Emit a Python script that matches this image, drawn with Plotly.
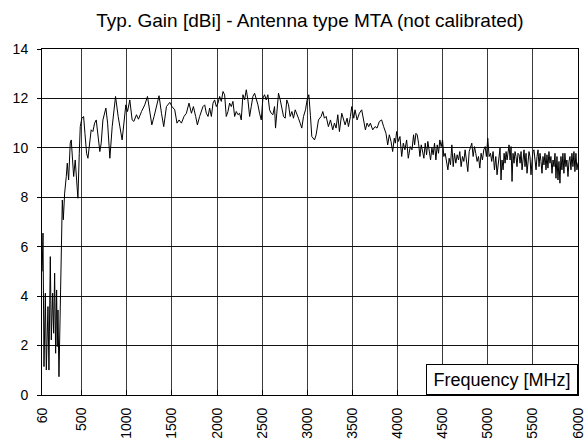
import plotly.graph_objects as go

# Frequency [MHz] sample positions
freq = [
    62, 71, 82, 97, 108, 126, 137, 152, 163, 178, 189, 200, 211, 222, 229, 237, 248, 259, 274, 285,
    296, 311, 329, 340, 355, 373, 384, 395, 411, 428, 444, 458, 473, 484, 502, 521, 536, 554, 569, 587,
    605, 624, 643, 661,
    683, 701, 716, 735, 768, 787, 812, 838, 875, 904, 948, 970, 989, 1008, 1033, 1059, 1078, 1107, 1129, 1163,
    1199, 1229, 1254, 1277, 1302, 1332, 1357, 1384, 1409, 1439, 1476, 1501, 1531, 1556, 1579, 1605, 1634, 1660, 1689, 1716,
    1738, 1763, 1782, 1807,
    1826, 1844, 1863, 1881, 1900, 1918, 1937, 1955, 1973, 1992, 2010, 2029, 2047, 2066, 2084, 2102, 2121, 2139, 2158, 2176,
    2195, 2213, 2232, 2250, 2268, 2287, 2305, 2324, 2342, 2361, 2379, 2397, 2416, 2434, 2453, 2471, 2490, 2508, 2526, 2545,
    2563, 2582, 2600, 2619, 2637, 2648, 2663, 2681, 2700, 2718, 2737, 2755, 2773, 2792, 2810, 2829, 2847, 2866, 2884, 2902,
    2921, 2939, 2958, 2980, 2998, 3017,
    3035, 3050, 3080, 3098, 3124, 3153, 3172, 3190, 3209, 3234, 3257, 3282, 3301, 3319, 3338, 3356, 3382, 3404, 3419, 3441,
    3456, 3478, 3493, 3515, 3529, 3552, 3577, 3603, 3622, 3644, 3662, 3681, 3699, 3725, 3751, 3773, 3799, 3824, 3846, 3872,
    3891, 3909, 3928, 3946, 3964, 3976, 3990, 4009, 4027, 4046, 4064, 4082, 4101, 4119, 4141, 4160, 4178,
    4189, 4204, 4218, 4233, 4248, 4263, 4277, 4292, 4307, 4322, 4336, 4351, 4366, 4381, 4395, 4410, 4425, 4440, 4454, 4469,
    4484, 4499, 4513, 4528, 4543, 4558, 4572, 4587, 4602, 4617, 4631, 4646, 4661, 4676, 4690, 4705, 4720, 4735, 4749, 4764,
    4779, 4794, 4808, 4823, 4838, 4853, 4867, 4882, 4897, 4912, 4926, 4941, 4956, 4971, 4985, 5000, 5015, 5030, 5044, 5059,
    5074, 5089, 5103, 5118,
    5136, 5147, 5158, 5170, 5181, 5192, 5203, 5214, 5225, 5236, 5247, 5258, 5269, 5280, 5291, 5302, 5313, 5324, 5335, 5347,
    5358, 5369, 5380, 5391, 5402, 5413, 5424, 5435, 5446, 5457, 5468, 5479, 5490, 5501, 5512, 5523, 5535, 5546, 5557, 5568,
    5579, 5590, 5601, 5612, 5623, 5634, 5645, 5656, 5667, 5678, 5689, 5700, 5712, 5723, 5734, 5745, 5756, 5767, 5778, 5789,
    5800, 5811, 5822, 5833, 5844, 5855, 5866, 5877, 5889, 5900, 5911, 5922, 5933, 5944, 5955, 5966, 5977, 5988, 6000,
]

# Typical gain [dBi]
gain = [
    5.0, 6.55, 1.15, 4.12, 1.01, 3.58, 1.01, 5.6, 2.23, 4.12, 2.5, 4.93, 1.69, 4.25, 1.96, 3.44, 0.74, 3.31, 6.81, 7.89,
    7.09, 8.17, 8.84, 9.38, 8.7, 10.19, 10.32, 9.65, 8.84, 9.51, 8.7, 7.96, 9.78, 10.86, 11.2, 11.27, 10.59, 9.78, 9.58, 10.05,
    10.73, 10.66, 11.0, 11.13,
    10.53, 9.85, 10.19, 11.13, 11.61, 11.0, 9.58, 10.86, 12.08, 11.27, 10.32, 11.13, 11.74, 11.47, 11.94, 11.13, 11.07, 11.34, 11.16, 11.47,
    11.74, 12.08, 11.4, 10.93, 11.27, 11.74, 12.11, 11.4, 10.86, 11.67, 11.84, 11.67, 11.54, 11.0, 11.13, 11.0, 11.27, 11.4, 11.81, 11.4,
    11.67, 11.27, 10.93, 11.27,
    11.47, 11.67, 11.74, 11.40, 11.27, 11.61, 11.27, 11.81, 11.94, 11.67, 11.81, 12.08, 11.88, 12.28, 12.15, 11.27, 11.47, 11.81, 11.67, 11.88,
    11.27, 11.47, 11.34, 11.40, 11.13, 12.15, 11.94, 12.35, 11.94, 11.27, 11.67, 12.08, 12.21, 12.01, 11.74, 11.40, 11.13, 12.01, 12.15, 11.94,
    12.15, 11.54, 11.40, 11.34, 11.67, 10.80, 11.47, 12.21, 11.94, 11.67, 11.27, 11.20, 11.94, 11.74, 11.27, 11.47, 11.20, 11.54, 11.40, 11.20,
    11.00, 10.80, 11.27, 11.54, 11.94, 12.15,
    11.30, 10.46, 10.32, 10.53, 11.13, 11.27, 11.47, 11.20, 11.27, 10.86, 11.13, 10.73, 11.00, 10.80, 11.34, 10.66, 11.40, 11.07, 10.93, 11.20,
    10.86, 11.27, 11.67, 11.20, 11.54, 11.13, 11.40, 11.54, 11.20, 10.73, 11.00, 10.86, 11.00, 10.73, 10.86, 10.80, 11.07, 11.13, 10.86, 10.59,
    10.12, 10.53, 10.26, 9.85, 10.39, 10.19, 10.66, 10.26, 10.46, 9.65, 10.19, 9.92, 10.32, 9.58, 10.05, 9.92, 10.53,
    10.12, 10.59, 10.53, 10.19, 9.65, 10.12, 9.85, 9.58, 10.19, 9.72, 10.26, 9.92, 9.51, 9.99, 9.72, 10.19, 9.51, 10.12, 9.78, 10.32,
    10.05, 10.32, 9.65, 9.78, 9.45, 9.11, 9.58, 9.31, 10.12, 9.24, 9.78, 9.38, 9.72, 9.51, 9.85, 9.24, 9.65, 9.45, 9.92, 9.51,
    9.04, 9.85, 10.05, 10.19, 9.65, 10.05, 9.78, 9.45, 9.65, 9.18, 9.78, 9.51, 9.92, 10.05, 9.65, 10.39, 9.65, 9.78, 9.45, 9.85,
    9.11, 9.65, 8.91, 9.51,
    9.99, 8.70, 9.51, 9.11, 9.78, 9.38, 9.85, 9.51, 9.78, 10.12, 9.51, 10.05, 8.64, 9.78, 9.38, 9.85, 9.65, 9.24, 9.78, 9.72,
    9.38, 9.85, 9.11, 9.65, 9.92, 9.24, 9.78, 8.97, 9.51, 9.85, 9.65, 8.91, 9.45, 9.85, 9.92, 9.38, 9.11, 9.65, 9.92, 9.24,
    9.78, 9.45, 8.97, 9.65, 9.31, 9.78, 9.11, 9.72, 9.18, 9.85, 9.38, 9.65, 8.97, 9.51, 9.24, 9.78, 8.77, 9.65, 8.70, 9.45,
    8.57, 9.65, 9.11, 9.78, 8.97, 9.78, 9.24, 9.51, 8.84, 9.45, 9.65, 9.11, 9.78, 9.24, 9.85, 9.04, 9.78, 9.11, 9.40,
]

assert len(freq) == len(gain), (len(freq), len(gain))

x_ticks = [60, 500, 1000, 1500, 2000, 2500, 3000, 3500, 4000, 4500, 5000, 5500, 6000]
y_ticks = [0, 2, 4, 6, 8, 10, 12, 14]

title_text = "Typ. Gain [dBi] - Antenna type MTA (not calibrated)"
x_label = "Frequency [MHz]"

FONT = "Liberation Sans, Arial, sans-serif"

fig = go.Figure(
    go.Scatter(x=freq, y=gain, mode="lines", line=dict(color="black", width=1), showlegend=False,
               hoverinfo="skip")
)

fig.update_layout(
    width=585, height=441,
    margin=dict(l=42, r=7, t=49, b=46, autoexpand=False),
    paper_bgcolor="white", plot_bgcolor="white",
    font=dict(family=FONT, color="black", size=14),
    title=dict(text=title_text, x=0.5, xref="paper", xanchor="center",
               y=1 - 20 / 441, yref="container", yanchor="middle",
               font=dict(family=FONT, size=19, color="black")),
    xaxis=dict(range=[60, 6000], tickmode="array", tickvals=x_ticks,
               ticktext=[str(v) for v in x_ticks], tickangle=-90,
               ticks="inside", ticklen=5, tickcolor="black", tickwidth=1,
               showgrid=True, gridcolor="#3a3a3a", gridwidth=1,
               showline=True, mirror=True, linecolor="black", linewidth=1,
               zeroline=False, tickfont=dict(size=14), automargin=False,
               ticklabelstandoff=6, ticklabeloverflow="allow"),
    yaxis=dict(range=[0, 14], tickmode="array", tickvals=y_ticks,
               ticks="outside", ticklen=4, tickcolor="black", tickwidth=1,
               showgrid=True, gridcolor="#111111", gridwidth=1,
               showline=True, mirror=True, linecolor="black", linewidth=1,
               zeroline=False, tickfont=dict(size=14), automargin=False,
               ticklabelstandoff=6, ticklabeloverflow="allow"),
    annotations=[dict(text=x_label, xref="paper", yref="paper",
                      x=1.0, y=0.0, xanchor="right", yanchor="bottom",
                      width=150, height=29, align="center", valign="middle",
                      bgcolor="white", bordercolor="black", borderwidth=1, borderpad=0,
                      showarrow=False, font=dict(family=FONT, size=18, color="black"))],
)

fig.write_html("out.html", config={"displayModeBar": False},
               post_script="document.body.style.margin='0';document.body.style.padding='0';")
